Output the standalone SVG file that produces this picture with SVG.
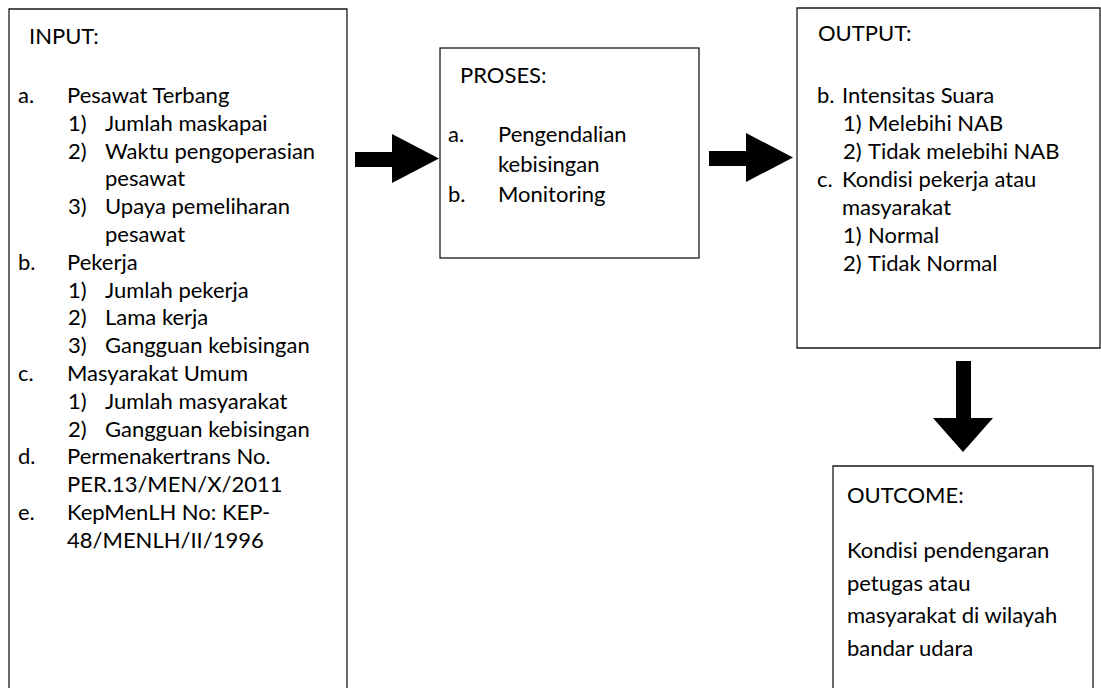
<svg xmlns="http://www.w3.org/2000/svg" width="1101" height="688" viewBox="0 0 1101 688">
<style>
.box{fill:none;stroke:#1a1a1a;stroke-width:1.3}
text{font-family:Lato,"Open Sans","Liberation Sans",sans-serif;font-size:22px;fill:#000}
.arr{fill:#000;stroke:none}
</style>
<rect width="1101" height="688" fill="#fff"/>
<g id="input">
<path class="box" d="M9,688 V9 H347 V688"/>
<text x="29" y="44">INPUT:</text>
<text x="18" y="103">a.</text><text x="67" y="103">Pesawat Terbang</text>
<text x="68" y="130.8">1)</text><text x="105" y="130.8">Jumlah maskapai</text>
<text x="68" y="158.6">2)</text><text x="105" y="158.6">Waktu pengoperasian</text>
<text x="105" y="186.4">pesawat</text>
<text x="68" y="214.2">3)</text><text x="105" y="214.2">Upaya pemeliharan</text>
<text x="105" y="242">pesawat</text>
<text x="18" y="269.8">b.</text><text x="67" y="269.8">Pekerja</text>
<text x="68" y="297.6">1)</text><text x="105" y="297.6">Jumlah pekerja</text>
<text x="68" y="325.4">2)</text><text x="105" y="325.4">Lama kerja</text>
<text x="68" y="353.2">3)</text><text x="105" y="353.2">Gangguan kebisingan</text>
<text x="18" y="381">c.</text><text x="67" y="381">Masyarakat Umum</text>
<text x="68" y="408.8">1)</text><text x="105" y="408.8">Jumlah masyarakat</text>
<text x="68" y="436.6">2)</text><text x="105" y="436.6">Gangguan kebisingan</text>
<text x="18" y="464.4">d.</text><text x="67" y="464.4">Permenakertrans No.</text>
<text x="67" y="492.2">PER.13/MEN/X/2011</text>
<text x="18" y="520">e.</text><text x="67" y="520">KepMenLH No: KEP-</text>
<text x="67" y="547.8">48/MENLH/II/1996</text>
</g>
<g id="proses">
<rect class="box" x="440" y="48" width="259" height="210"/>
<text x="460" y="83">PROSES:</text>
<text x="448" y="142">a.</text><text x="498" y="142">Pengendalian</text>
<text x="498" y="172">kebisingan</text>
<text x="448" y="202">b.</text><text x="498" y="202">Monitoring</text>
</g>
<g id="output">
<path class="box" d="M1100,348 H797 V8 H1100 Z"/>
<text x="818" y="41">OUTPUT:</text>
<text x="817" y="103">b.</text><text x="842" y="103">Intensitas Suara</text>
<text x="843" y="131">1)</text><text x="868" y="131">Melebihi NAB</text>
<text x="843" y="159">2)</text><text x="868" y="159">Tidak melebihi NAB</text>
<text x="817" y="187">c.</text><text x="842" y="187">Kondisi pekerja atau</text>
<text x="842" y="215">masyarakat</text>
<text x="843" y="243">1)</text><text x="868" y="243">Normal</text>
<text x="843" y="271">2)</text><text x="868" y="271">Tidak Normal</text>
</g>
<g id="outcome">
<path class="box" d="M833,688 V466 H1093 V688"/>
<text x="847" y="503">OUTCOME:</text>
<text x="847" y="558">Kondisi pendengaran</text>
<text x="847" y="590.5">petugas atau</text>
<text x="847" y="623">masyarakat di wilayah</text>
<text x="847" y="655.5">bandar udara</text>
</g>
<g id="connectors">
<path class="arr" d="M355,152 H392 V134 L439,158.5 L392,183 V167 H355 Z"/>
<path class="arr" d="M709,151 H746 V133 L793,157.5 L746,182 V166 H709 Z"/>
<path class="arr" d="M956,361 H971 V418 H993 L963,452 L933,418 H956 Z"/>
</g>
</svg>
